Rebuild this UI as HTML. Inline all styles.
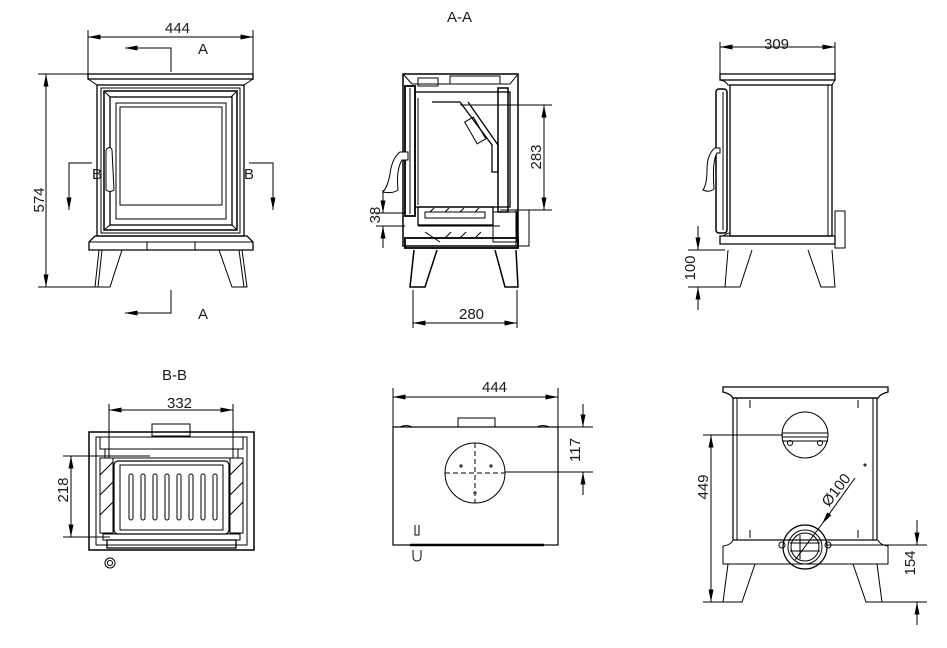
<!DOCTYPE html>
<html><head><meta charset="utf-8"><style>
html,body{margin:0;padding:0;background:#fff;width:947px;height:648px;overflow:hidden}
svg{display:block}
text{font-family:"Liberation Sans",sans-serif;font-size:15px;fill:#1a1a1a}
</style></head><body>
<svg width="947" height="648" viewBox="0 0 947 648" xmlns="http://www.w3.org/2000/svg">
<defs>
<marker id="a" viewBox="0 0 10 4" refX="10" refY="2" markerWidth="16" markerHeight="5" markerUnits="userSpaceOnUse" orient="auto-start-reverse"><path d="M0,0L10,2L0,4z" fill="#000"/></marker>
</defs>
<g stroke="#000" stroke-width="1" fill="none">

<!-- ===== FRONT VIEW ===== -->
<line x1="88" y1="30" x2="88" y2="74"/><line x1="253" y1="30" x2="253" y2="74"/>
<line x1="88" y1="37" x2="253" y2="37" marker-start="url(#a)" marker-end="url(#a)"/>
<line x1="38" y1="74" x2="96" y2="74"/><line x1="38" y1="287" x2="96" y2="287"/>
<line x1="46" y1="74" x2="46" y2="287" marker-start="url(#a)" marker-end="url(#a)"/>
<rect x="88" y="74" width="165" height="5" stroke-width="1.3"/>
<path d="M88,79 L97,85 L244,85 L253,79"/>
<rect x="97" y="85" width="147" height="151" stroke-width="1.3"/>
<rect x="101" y="88" width="139" height="145"/>
<rect x="104" y="91" width="133" height="139" stroke-width="1.5"/>
<rect x="110" y="97" width="122" height="128" stroke-width="1.3"/>
<rect x="116" y="103" width="110" height="116"/>
<rect x="120" y="107" width="102" height="98"/>
<path d="M104,91 L110,97 M237,91 L231,97 M104,230 L110,225 M237,230 L232,225"/>
<path d="M106,150 q4,-5 6,0 l2,40 q-4,3 -8,0 z" fill="#fff"/>
<path d="M95,236 L247,236 L253,242 L253,250 L89,250 L89,242 Z" stroke-width="1.3"/>
<line x1="89" y1="242" x2="253" y2="242"/>
<rect x="147" y="242" width="48" height="8"/>
<path d="M99,250 L95,287 L110,287 L122,250"/><line x1="102" y1="250" x2="98" y2="287"/>
<path d="M219,250 L232,287 L247,287 L242,250"/><line x1="239" y1="250" x2="244" y2="287"/>
<path d="M171,72 L171,48 L148,48"/>
<line x1="148" y1="48" x2="125" y2="48" marker-end="url(#a)"/>
<path d="M171,290 L171,313 L148,313"/>
<line x1="148" y1="313" x2="125" y2="313" marker-end="url(#a)"/>
<path d="M92,163 L69,163 L69,185"/><line x1="69" y1="185" x2="69" y2="210" marker-end="url(#a)"/>
<path d="M249,163 L273,163 L273,185"/><line x1="273" y1="185" x2="273" y2="210" marker-end="url(#a)"/>

<!-- ===== SECTION A-A ===== -->
<path d="M403,74 L518,74 L518,246 L403,246 Z" stroke-width="1.5"/>
<path d="M403,74 L412,84 L510,84 L518,74"/>
<rect x="418" y="78" width="20" height="8"/><rect x="450" y="76" width="50" height="8"/>
<rect x="405" y="86" width="10" height="130" stroke-width="1.8"/>
<line x1="410" y1="88" x2="410" y2="214"/>
<rect x="415" y="92" width="95" height="115" stroke-width="1.3"/>
<line x1="418" y1="98" x2="418" y2="205"/>
<path d="M432,102 L460,102 L492,145 L492,172 L498,172 L498,145 L468,102" stroke-width="1.3"/>
<rect x="470" y="118" width="10" height="25" transform="rotate(-30 475 130)"/>
<rect x="498" y="88" width="10" height="124" stroke-width="1.5"/>
<rect x="418" y="207" width="75" height="18" stroke-width="1.3"/>
<rect x="425" y="212" width="60" height="6"/>
<path d="M430,212 l4,-4 M445,212 l4,-4 M460,212 l4,-4 M475,212 l4,-4"/>
<rect x="493" y="212" width="24" height="30"/>
<rect x="516" y="210" width="13" height="36"/>
<path d="M418,226 L500,226 M425,232 L440,242 M445,238 l6,-6 M460,238 l6,-6 M475,238 l6,-6"/>
<rect x="405" y="238" width="113" height="10" stroke-width="1.8"/>
<path d="M383,192 q5,-6 7,-18 q2,-16 10,-22 l8,0 l0,8 l-6,0 q-6,10 -4,30 q-6,4 -15,2z" fill="#fff"/>
<path d="M414,250 L410,287 L425,287 L437,250" stroke-width="1.5"/><path d="M495,250 L505,287 L518,287 L516,250" stroke-width="1.5"/>
<line x1="460" y1="105" x2="552" y2="105"/><line x1="500" y1="210" x2="552" y2="210"/>
<line x1="544" y1="105" x2="544" y2="210" marker-start="url(#a)" marker-end="url(#a)"/>
<line x1="376" y1="213" x2="405" y2="213"/><line x1="376" y1="226" x2="405" y2="226"/>
<line x1="383" y1="190" x2="383" y2="213" marker-end="url(#a)"/>
<line x1="383" y1="248" x2="383" y2="226" marker-end="url(#a)"/>
<line x1="413" y1="290" x2="413" y2="328"/><line x1="517" y1="290" x2="517" y2="328"/>
<line x1="413" y1="323" x2="517" y2="323" marker-start="url(#a)" marker-end="url(#a)"/>

<!-- ===== SIDE VIEW ===== -->
<line x1="720" y1="42" x2="720" y2="74"/><line x1="835" y1="42" x2="835" y2="74"/>
<line x1="720" y1="47" x2="835" y2="47" marker-start="url(#a)" marker-end="url(#a)"/>
<rect x="720" y="74" width="115" height="6" stroke-width="1.3"/>
<path d="M720,80 q6,1 8,5 L832,85 L835,80"/>
<rect x="730" y="85" width="102" height="151" stroke-width="1.3"/>
<line x1="828" y1="85" x2="828" y2="236"/>
<rect x="716" y="89" width="11" height="144" rx="3" stroke-width="1.5"/>
<line x1="723" y1="92" x2="723" y2="230"/>
<path d="M703,190 q4,-6 4,-20 q0,-16 8,-22 l5,0 l0,5 l-3,0 q-5,8 -3,36 q-5,4 -11,1z" fill="#fff"/>
<path d="M720,236 L835,236 L835,244 L720,244 Z" stroke-width="1.3"/>
<path d="M723,236 q4,-3 7,-3"/>
<rect x="835" y="211" width="10" height="37"/>
<path d="M728,250 L725,287 L740,287 L752,250"/><path d="M808,250 L821,287 L835,287 L832,250"/>
<line x1="688" y1="250" x2="725" y2="250"/><line x1="688" y1="287" x2="725" y2="287"/>
<line x1="698" y1="226" x2="698" y2="250" marker-end="url(#a)"/>
<line x1="698" y1="310" x2="698" y2="287" marker-end="url(#a)"/>

<!-- ===== B-B ===== -->
<line x1="109" y1="404" x2="109" y2="458"/><line x1="233" y1="404" x2="233" y2="458"/>
<line x1="109" y1="410" x2="233" y2="410" marker-start="url(#a)" marker-end="url(#a)"/>
<rect x="152" y="424" width="38" height="12"/>
<rect x="89" y="432" width="165" height="118" stroke-width="1.5"/>
<rect x="96" y="437" width="151" height="108"/>
<rect x="100" y="437" width="143" height="12"/>
<rect x="105" y="449" width="133" height="9"/>
<rect x="100" y="458" width="13" height="75"/><rect x="230" y="458" width="13" height="75"/>
<path d="M100,475 l13,-13 M100,495 l13,-13 M100,515 l13,-13 M230,475 l13,-13 M230,495 l13,-13 M230,515 l13,-13"/>
<rect x="114" y="461" width="115" height="73" rx="4" stroke-width="1.2"/>
<rect x="120" y="465" width="103" height="65"/>
<g><rect x="129" y="474" width="4" height="46" rx="2"/><rect x="141" y="474" width="4" height="46" rx="2"/><rect x="153" y="474" width="4" height="46" rx="2"/><rect x="165" y="474" width="4" height="46" rx="2"/><rect x="177" y="474" width="4" height="46" rx="2"/><rect x="189" y="474" width="4" height="46" rx="2"/><rect x="201" y="474" width="4" height="46" rx="2"/><rect x="213" y="474" width="4" height="46" rx="2"/></g>
<rect x="103" y="534" width="137" height="6"/><rect x="107" y="540" width="129" height="8" stroke-width="1.3"/>
<circle cx="110" cy="563" r="5"/><circle cx="110" cy="563" r="2.5"/>
<line x1="63" y1="456" x2="150" y2="456"/><line x1="63" y1="537" x2="110" y2="537"/>
<line x1="71" y1="456" x2="71" y2="537" marker-start="url(#a)" marker-end="url(#a)"/>

<!-- ===== TOP VIEW ===== -->
<line x1="393" y1="388" x2="393" y2="427"/><line x1="558" y1="388" x2="558" y2="427"/>
<line x1="393" y1="397" x2="558" y2="397" marker-start="url(#a)" marker-end="url(#a)"/>
<rect x="458" y="418" width="37" height="9"/>
<rect x="393" y="427" width="165" height="118" stroke-width="1.2"/>
<path d="M400,427 q6,-3 12,0 M537,427 q6,-3 12,0 M450,427 l50,0"/>
<line x1="410" y1="545" x2="544" y2="545" stroke-width="2.5"/>
<circle cx="475" cy="473" r="30"/>
<path d="M445,473 L505,473 M475,443 L475,503" stroke-dasharray="5,3"/>
<path d="M459,466 h4 M461,464 v4 M489,466 h4 M491,464 v4 M473,493 h4 M475,491 v4"/>
<path d="M415,525 v10 h4 v-10"/><path d="M413,550 v6 q0,5 4,5 q4,0 4,-5 v-6"/>
<line x1="505" y1="427" x2="593" y2="427"/><line x1="505" y1="472" x2="593" y2="472"/>
<line x1="583" y1="404" x2="583" y2="427" marker-end="url(#a)"/>
<line x1="583" y1="495" x2="583" y2="472" marker-end="url(#a)"/>

<!-- ===== BACK VIEW ===== -->
<path d="M723,387 L888,387 L888,392 q-8,2 -10,6 L733,398 q-2,-4 -10,-6 Z" stroke-width="1.3"/>
<rect x="733" y="398" width="144" height="142" stroke-width="1.2"/>
<line x1="737" y1="398" x2="737" y2="540"/><line x1="873" y1="398" x2="873" y2="540"/>
<path d="M750,400 v8 M858,400 v8 M750,530 v8 M858,530 v8"/>
<path d="M733,540 q-2,5 -10,6 L723,564 L888,564 L888,546 q-8,-1 -10,-6"/>
<circle cx="805" cy="435" r="23"/>
<path d="M782,433 h46 M782,437 h46 M782,441 h46"/>
<circle cx="790" cy="443" r="2.5"/><circle cx="820" cy="443" r="2.5"/>
<circle cx="805" cy="547" r="22" stroke-width="1.2"/><circle cx="805" cy="547" r="17"/><circle cx="805" cy="547" r="14"/>
<path d="M790,543 h30 M790,551 h30 M800,535 v24"/>
<circle cx="782" cy="545" r="3"/><circle cx="828" cy="545" r="3"/>
<path d="M728,564 L723,602 L742,602 L755,564"/><path d="M853,564 L866,602 L882,602 L877,564"/>
<circle cx="865" cy="465" r="1"/>
<line x1="855" y1="478" x2="822" y2="524" marker-end="url(#a)"/>
<line x1="822" y1="524" x2="795" y2="560"/>
<line x1="703" y1="435" x2="783" y2="435"/><line x1="703" y1="602" x2="742" y2="602"/>
<line x1="711" y1="435" x2="711" y2="602" marker-start="url(#a)" marker-end="url(#a)"/>
<line x1="827" y1="545" x2="927" y2="545"/><line x1="866" y1="602" x2="927" y2="602"/>
<line x1="917" y1="520" x2="917" y2="545" marker-end="url(#a)"/>
<line x1="917" y1="625" x2="917" y2="602" marker-end="url(#a)"/>
</g>

<text x="165" y="33">444</text>
<text x="198" y="54">A</text>
<text x="198" y="319">A</text>
<text x="92" y="179">B</text>
<text x="244" y="179">B</text>
<text transform="translate(44,200) rotate(-90)" text-anchor="middle">574</text>
<text x="447" y="22">A-A</text>
<text transform="translate(541,157) rotate(-90)" text-anchor="middle">283</text>
<text transform="translate(380,215) rotate(-90)" text-anchor="middle">38</text>
<text x="459" y="319">280</text>
<text x="764" y="49">309</text>
<text transform="translate(695,268) rotate(-90)" text-anchor="middle">100</text>
<text x="162" y="380">B-B</text>
<text x="167" y="408">332</text>
<text transform="translate(68,490) rotate(-90)" text-anchor="middle">218</text>
<text x="482" y="392">444</text>
<text transform="translate(580,450) rotate(-90)" text-anchor="middle">117</text>
<text transform="translate(708,487) rotate(-90)" text-anchor="middle">449</text>
<text transform="translate(915,563) rotate(-90)" text-anchor="middle">154</text>
<text transform="translate(840,493) rotate(-52)" text-anchor="middle">Ø100</text>
</svg>
</body></html>
